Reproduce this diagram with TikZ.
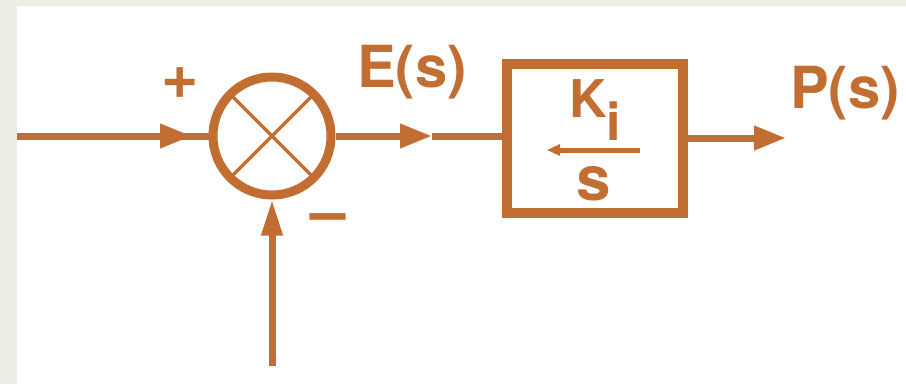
\documentclass[tikz,border=0pt]{standalone}
\usepackage{fontspec}
\setmainfont{TeX Gyre Heros}
\usepackage{xcolor}
\usetikzlibrary{positioning}
\usetikzlibrary{arrows.meta}
\definecolor{rust}{RGB}{194,110,50}
\definecolor{paper}{RGB}{239,238,230}

\begin{document}
\begin{tikzpicture}[x=1pt, y=-1pt, >={Triangle[length=32pt, width=23pt]},
  every node/.style={text=rust, font=\bfseries\fontsize{58}{60}\selectfont},
  sig/.style={draw=rust, line width=7pt},
  sign/.style={font=\bfseries\fontsize{64}{64}\selectfont, anchor=base}]
\fill[paper] (0,0) rectangle (906,384);
\fill[white] (17,6) rectangle (906,384);
\useasboundingbox (0,0) rectangle (906,384);

\node[circle, draw=rust, line width=9pt, minimum size=118pt, inner sep=0pt] (sum) at (272,136) {};
\draw[rust, line width=3.5pt] (sum.center) ++(45:56) -- ++(225:112);
\draw[rust, line width=3.5pt] (sum.center) ++(135:56) -- ++(315:112);
\node[draw=rust, line width=10pt, minimum width=176pt, minimum height=149pt, inner sep=0pt] (blk) at (595,138) {};

\coordinate (in) at (17,136);
\coordinate (inarr) at (192,136);
\coordinate (fb) at (272,366);
\coordinate (emid) at (432,136);
\coordinate (out) at (786,138);

\draw[sig] (in) -- (sum.west);
\draw[sig, ->] (in) -- (inarr);
\draw[sig, -{Triangle[length=36pt, width=20pt]}] (fb) -- (sum.south);
\draw[sig, ->] (sum.east) -- (emid);
\draw[sig] (emid) -- (emid -| blk.west);
\draw[sig, ->] (blk.east |- out) -- (out);

\node[sign] (plus) at (180,98) {+};
\node[sign] (minus) at (328,233) {–};
\node[anchor=base] (err) at (412,87) {E(s)};
\node[anchor=base] (pout) at (845,108) {P(s)};

% gain K_i / s
\node[anchor=base west, inner sep=0pt, font=\bfseries\fontsize{52}{56}\selectfont] (num) at (569,117)
  {K\raisebox{-23pt}{i}};
\coordinate (barl) at (547,150);
\coordinate (barr) at (640,150);
\draw[rust, line width=5pt, -{Triangle[length=13pt, width=11pt]}] (barr) -- (barl);
\node[anchor=base, font=\bfseries\fontsize{62}{62}\selectfont] (den) at (594,200) {s};
\end{tikzpicture}
\end{document}
